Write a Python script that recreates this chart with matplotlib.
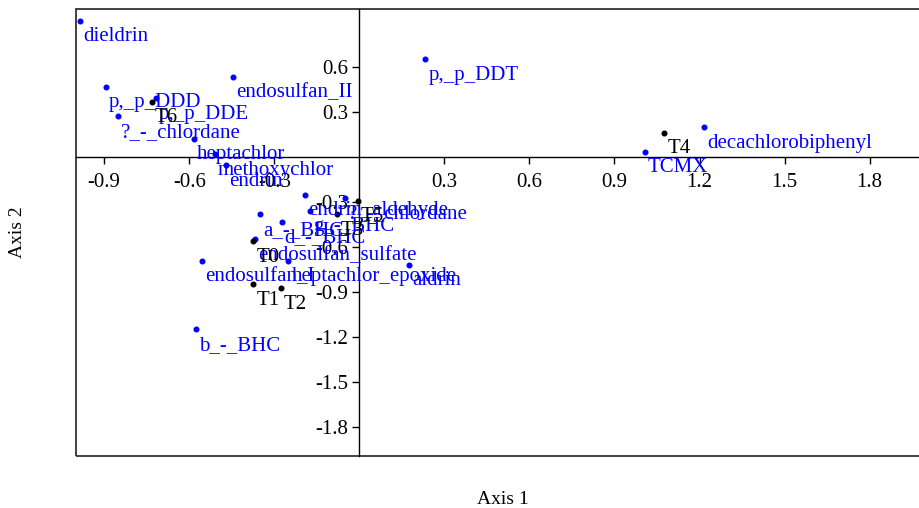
import matplotlib
matplotlib.use("Agg")
import matplotlib.pyplot as plt
from matplotlib.patches import Rectangle

plt.rcParams['font.family'] = ['Liberation Serif', 'DejaVu Serif']

# variables (blue)
var_names = ['dieldrin', 'p,_p_DDD', 'p,_p_DDE', '?_-_chlordane', 'endosulfan_II',
             'heptachlor', 'methoxychlor', 'endrin', 'p,_p_DDT', 'decachlorobiphenyl',
             'TCMX', 'endrin_aldehyde', '?_-_chlordane', 'a_-_BHC', 'd_-_BHC',
             'g_-_BHC', 'endosulfan_sulfate', 'endosulfan_I', 'heptachlor_epoxide',
             'aldrin', 'b_-_BHC']
var_x = [-0.985, -0.894, -0.717, -0.852, -0.446,
         -0.583, -0.509, -0.471, 0.233, 1.216,
         1.007, -0.19, -0.05, -0.35, -0.274,
         -0.173, -0.369, -0.556, -0.25,
         0.176, -0.576]
var_y = [0.909, 0.471, 0.393, 0.273, 0.537,
         0.122, 0.02, -0.053, 0.653, 0.2,
         0.037, -0.25, -0.27, -0.38, -0.43,
         -0.355, -0.547, -0.689, -0.689,
         -0.718, -1.147]

# samples (black)
samp_names = ['T0', 'T1', 'T2', 'T3', 'T4', 'T5', 'T6']
samp_x = [-0.374, -0.374, -0.277, -0.077, 1.076, -0.005, -0.732]
samp_y = [-0.56, -0.847, -0.873, -0.38, 0.162, -0.29, 0.371]

xticks = [-0.9, -0.6, -0.3, 0.3, 0.6, 0.9, 1.2, 1.5, 1.8]
yticks = [0.6, 0.3, -0.3, -0.6, -0.9, -1.2, -1.5, -1.8]

fig = plt.figure(figsize=(9.2, 5.08), dpi=100)
ax = fig.add_axes([0.0824, 0.1028, 0.9245, 0.880])
ax.set_xlim(-1.0, 2.0)
ax.set_ylim(-1.99, 0.99)

for side in ['top', 'right']:
    ax.spines[side].set_visible(False)
ax.spines['left'].set_position('zero')
ax.spines['bottom'].set_position('zero')
ax.spines['left'].set_linewidth(1.0)
ax.spines['bottom'].set_linewidth(1.0)
ax.add_patch(Rectangle((0, 0), 1, 1, transform=ax.transAxes, fill=False,
                       edgecolor='#333333', linewidth=1.3, clip_on=False))

ax.set_xticks(xticks)
ax.set_xticklabels([f'{v:.1f}' for v in xticks])
ax.set_yticks(yticks)
ax.set_yticklabels([f'{v:.1f}' for v in yticks])
ax.tick_params(direction='out', length=5, width=1, labelsize=15)
ax.tick_params(axis='x', pad=6)
ax.tick_params(axis='y', pad=3)

ax.scatter(var_x, var_y, s=11, color='blue', zorder=3)
ax.scatter(samp_x, samp_y, s=11, color='black', zorder=3)
for n, x, y in zip(var_names, var_x, var_y):
    ax.annotate(n, (x, y), xytext=(3, -16), textcoords='offset pixels',
                ha='left', va='center', fontsize=15, color='blue')
for n, x, y in zip(samp_names, samp_x, samp_y):
    ax.annotate(n, (x, y), xytext=(3, -16), textcoords='offset pixels',
                ha='left', va='center', fontsize=15, color='black')

fig.text(503 / 920, 1 - 500 / 508, 'Axis 1', ha='center', va='center', fontsize=14)
fig.text(18 / 920, 1 - 232 / 508, 'Axis 2', ha='center', va='center', fontsize=14,
         rotation=90)

fig.savefig('out.png', dpi=100)
